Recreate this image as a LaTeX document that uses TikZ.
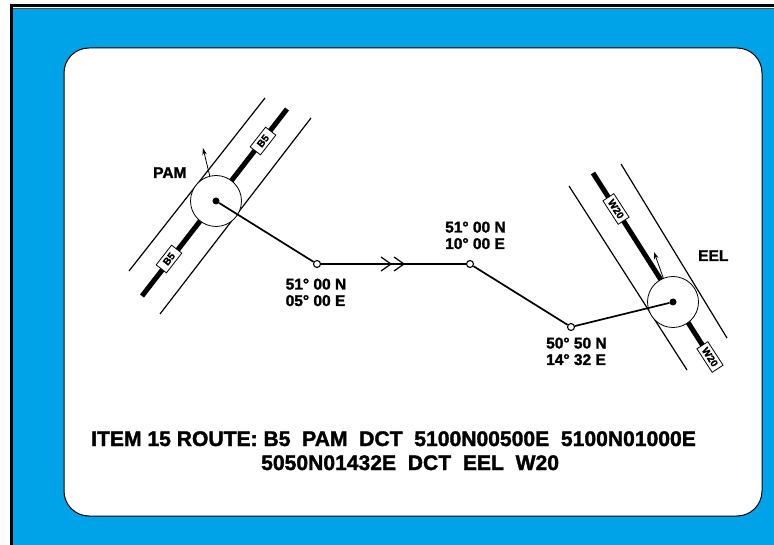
\documentclass[tikz,border=0pt]{standalone}
\usepackage{fontspec}
\usetikzlibrary{arrows.meta}
\setmainfont{Liberation Sans}[FakeBold=1.6]
\definecolor{skyback}{RGB}{0,162,232}
\tikzset{
	waypoint/.style={circle,draw,fill=white,line width=1.1pt,minimum size=7pt,inner sep=0pt},
	beacon/.style={circle,draw,fill=white,line width=0.8pt,minimum size=51pt,inner sep=0pt},
	beacondot/.style={circle,fill=black,minimum size=7pt,inner sep=0pt},
	airway/.style={line width=5pt},
	edgeline/.style={line width=1.2pt},
	route/.style={line width=1.7pt},
	tag/.style={draw,fill=white,line width=0.8pt,font=\fontsize{10}{10}\selectfont\bfseries,inner sep=0pt,minimum width=#1,minimum height=13pt},
	place/.style={font=\fontsize{15.5}{16.5}\selectfont\bfseries,align=left,inner sep=0pt,anchor=base west},
	itemline/.style={font=\fontsize{21.1}{24}\selectfont\bfseries,inner sep=0pt,anchor=base west}
}
\begin{document}
\begin{tikzpicture}[>=stealth,x=1pt,y=-1pt]
	\useasboundingbox (0,0) rectangle (774,545);
	\fill[white] (0,0) rectangle (774,545);
	\fill[skyback] (13,9) rectangle (774,545);
	\fill[black] (10,4) rectangle (774,7);
	\fill[black!70] (13,8) rectangle (774,9);
	\fill[black] (10,4) rectangle (13,545);
	\draw[fill=white,line width=1pt,rounded corners=25pt] (64,48) rectangle (762,516);
	%left beacon
	\coordinate (bfrom) at (142,296);
	\coordinate (bto) at (287,109);
	\coordinate (al) at (129,271);
	\coordinate (bl) at (265,98);
	\coordinate (ar) at (160,314);
	\coordinate (br) at (311,118);
	\draw[airway] (bfrom) -- (bto);
	\draw[edgeline] (al) -- (bl);
	\draw[edgeline] (ar) -- (br);
	\node[tag=25pt,rotate=52] (btaga) at (263,141) {B5};
	\node[tag=25pt,rotate=52] (btagb) at (169,259) {B5};
	\node[beacon] (pam) at (216,201) {};
	\node[beacondot] (pamdot) at (pam.center) {};
	\coordinate (pamtip) at (203,148);
	\draw[-{Stealth[length=7pt,width=4.5pt]},line width=0.8pt] (pam.104) -- (pamtip);
	\node[place] (pamlabel) at (153,178) {PAM};
	%right beacon
	\coordinate (wfrom) at (593,173);
	\coordinate (wto) at (710,357);
	\coordinate (cl) at (569,186);
	\coordinate (dl) at (687,370);
	\coordinate (cr) at (621,164);
	\coordinate (dr) at (727,338);
	\draw[airway] (wfrom) -- (wto);
	\draw[edgeline] (cl) -- (dl);
	\draw[edgeline] (cr) -- (dr);
	\node[tag=28pt,rotate=-57] (wtaga) at (616,209) {W20};
	\node[tag=28pt,rotate=-57] (wtagb) at (710,357) {W20};
	\node[beacon] (eel) at (673,302) {};
	\node[beacondot] (eeldot) at (eel.center) {};
	\coordinate (eeltip) at (654,252);
	\draw[-{Stealth[length=7pt,width=4.5pt]},line width=0.8pt] (eel.112) -- (eeltip);
	\node[place] (eellabel) at (698,261) {EEL};
	%route
	\node[waypoint] (wpa) at (317,264) {};
	\node[waypoint] (wpb) at (470,264) {};
	\node[waypoint] (wpc) at (571,327) {};
	\draw[route] (pamdot) -- (wpa);
	\draw[route] (wpa) -- (wpb);
	\draw[route] (wpb) -- (wpc);
	\draw[route] (wpc) -- (eeldot);
	\foreach \t in {391,404}
		\draw[line width=1.2pt] (\t-10,257) -- (\t,264) -- (\t-10,271);
	\node[place] (wpatext) at (285.5,306) {51° 00 N\\05° 00 E};
	\node[place] (wpbtext) at (445,249) {51° 00 N\\10° 00 E};
	\node[place] (wpctext) at (546,365) {50° 50 N\\14° 32 E};
	\node[itemline] (itema) at (91,446) {ITEM 15 ROUTE: B5~~PAM~~DCT~~5100N00500E~~5100N01000E};
	\node[itemline] (itemb) at (261,470) {5050N01432E~~DCT~~EEL~~W20};
\end{tikzpicture}
\end{document}
